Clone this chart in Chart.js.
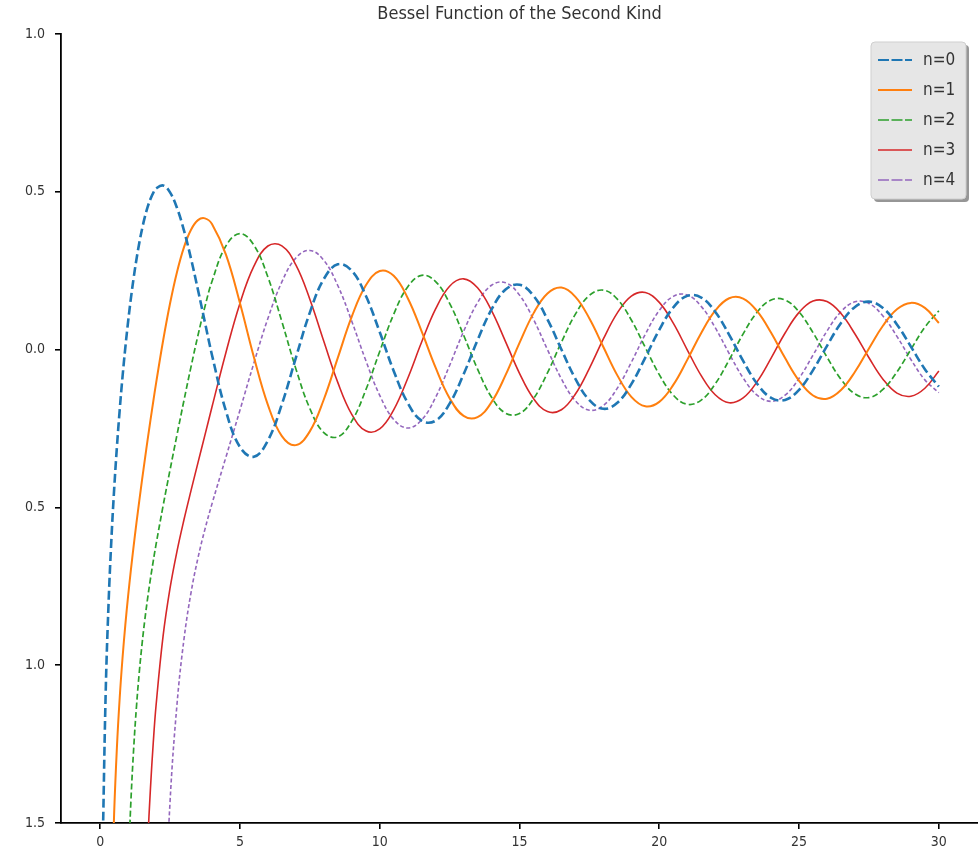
<!DOCTYPE html>
<html>
<head>
<meta charset="utf-8">
<script src="https://cdn.jsdelivr.net/npm/chart.js@4.4.1/dist/chart.umd.min.js"></script>
<style>
  html, body { margin: 0; padding: 0; background: #ffffff; }
  #wrap { width: 978px; height: 853px; }
</style>
</head>
<body>
<div id="wrap"><canvas id="chart" width="978" height="853"></canvas></div>
<script>
// ---------------- data ----------------
const titleText = 'Bessel Function of the Second Kind';
const seriesNames = ['n=0', 'n=1', 'n=2', 'n=3', 'n=4'];

const xValues = [
  0.1, 0.2, 0.3, 0.4, 0.5, 0.6, 0.7, 0.8, 0.9, 1.0,
  1.1, 1.2, 1.3, 1.4, 1.5, 1.6, 1.7, 1.8, 1.9, 2.0,
  2.25, 2.5, 2.75, 3.0, 3.25, 3.5, 3.75, 4.0,
  4.5, 5.0, 5.5, 6.0, 6.5, 7.0, 7.5, 8.0, 8.5, 9.0, 9.5, 10.0,
  10.5, 11.0, 11.5, 12.0, 12.5, 13.0, 13.5, 14.0, 14.5, 15.0,
  15.5, 16.0, 16.5, 17.0, 17.5, 18.0, 18.5, 19.0, 19.5, 20.0,
  20.5, 21.0, 21.5, 22.0, 22.5, 23.0, 23.5, 24.0, 24.5, 25.0,
  25.5, 26.0, 26.5, 27.0, 27.5, 28.0, 28.5, 29.0, 29.5, 30.0
];

const y0Values = [
  -1.5342, -1.0811, -0.8073, -0.6060, -0.4445, -0.3085, -0.1907, -0.0868, 0.0056, 0.0883,
  0.1622, 0.2281, 0.2865, 0.3379, 0.3824, 0.4204, 0.4520, 0.4774, 0.4968, 0.5104,
  0.5201, 0.4981, 0.4487, 0.3769, 0.2883, 0.1890, 0.0853, -0.0169,
  -0.1947, -0.3085, -0.3395, -0.2882, -0.1732, -0.0260, 0.1173, 0.2235, 0.2702, 0.2499, 0.1712, 0.0557,
  -0.0675, -0.1688, -0.2252, -0.2252, -0.1712, -0.0782, 0.0301, 0.1272, 0.1903, 0.2055,
  0.1706, 0.0958, 0.0002, -0.0926, -0.1604, -0.1876, -0.1687, -0.1095, -0.0255, 0.0626,
  0.1334, 0.1702, 0.1649, 0.1199, 0.0468, -0.0360, -0.1083, -0.1528, -0.1594, -0.1273,
  -0.0649, 0.0120, 0.0846, 0.1352, 0.1521, 0.1318, 0.0799, 0.0095, -0.0620, -0.1173
];

const y1Values = [
  null, null, null, -1.7809, -1.4715, -1.2604, -1.1032, -0.9781, -0.8731, -0.7812,
  -0.6981, -0.6211, -0.5485, -0.4791, -0.4123, -0.3476, -0.2847, -0.2237, -0.1644, -0.1070,
  0.0272, 0.1459, 0.2460, 0.3247, 0.3797, 0.4102, 0.4158, 0.3979,
  0.3010, 0.1479, -0.0238, -0.1750, -0.2741, -0.3027, -0.2591, -0.1581, -0.0262, 0.1043, 0.2032, 0.2490,
  0.2337, 0.1637, 0.0579, -0.0571, -0.1538, -0.2101, -0.2140, -0.1666, -0.0810, 0.0211,
  0.1148, 0.1780, 0.1965, 0.1672, 0.0986, 0.0082, -0.0817, -0.1496, -0.1796, -0.1655,
  -0.1119, -0.0325, 0.0528, 0.1234, 0.1626, 0.1617, 0.1217, 0.0531, -0.0270, -0.0988,
  -0.1454, -0.1558, -0.1283, -0.0703, 0.0038, 0.0755, 0.1277, 0.1480, 0.1321, 0.0844
];

const y2Values = [
  null, null, null, null, null, null, null, null, null, -1.6507,
  -1.4315, -1.2633, -1.1304, -1.0224, -0.9322, -0.8549, -0.7870, -0.7259, -0.6699, -0.6174,
  -0.4959, -0.3813, -0.2697, -0.1604, -0.0546, 0.0454, 0.1365, 0.2159,
  0.3285, 0.3677, 0.3309, 0.2299, 0.0889, -0.0605, -0.1864, -0.2630, -0.2764, -0.2268, -0.1284, -0.0059,
  0.1120, 0.1986, 0.2353, 0.2157, 0.1466, 0.0459, -0.0618, -0.1510, -0.2015, -0.2027,
  -0.1558, -0.0736, 0.0236, 0.1123, 0.1717, 0.1885, 0.1598, 0.0938, 0.0070, -0.0792,
  -0.1443, -0.1733, -0.1600, -0.1087, -0.0324, 0.0500, 0.1186, 0.1573, 0.1572, 0.1193,
  0.0535, -0.0240, -0.0942, -0.1404, -0.1519, -0.1264, -0.0709, 0.0007, 0.0710, 0.1229
];

const y3Values = [
  null, null, null, null, null, null, null, null, null, null,
  null, null, null, null, null, -1.7897, -1.5670, -1.3896, -1.2459, -1.1278,
  -0.9088, -0.7561, -0.6384, -0.5385, -0.4469, -0.3583, -0.2702, -0.1820,
  -0.0090, 0.1463, 0.2644, 0.3282, 0.3288, 0.2681, 0.1597, 0.0265, -0.1039, -0.2051, -0.2573, -0.2514,
  -0.1910, -0.0915, 0.0239, 0.1290, 0.2008, 0.2242, 0.1957, 0.1235, 0.0255, -0.0751,
  -0.1550, -0.1964, -0.1907, -0.1408, -0.0593, 0.0337, 0.1163, 0.1693, 0.1810, 0.1497,
  0.0837, -0.0005, -0.0826, -0.1432, -0.1684, -0.1530, -0.1015, -0.0269, 0.0526, 0.1179,
  0.1537, 0.1521, 0.1141, 0.0494, -0.0258, -0.0936, -0.1377, -0.1479, -0.1225, -0.0680
];

const y4Values = [
  null, null, null, null, null, null, null, null, null, null,
  null, null, null, null, null, null, null, null, null, null,
  -1.9275, -1.4332, -1.1230, -0.9167, -0.7705, -0.6597, -0.5688, -0.4889,
  -0.3405, -0.1921, -0.0424, 0.0984, 0.2146, 0.2903, 0.3142, 0.2829, 0.2030, 0.0900, -0.0340, -0.1449,
  -0.2212, -0.2485, -0.2228, -0.1512, -0.0502, 0.0576, 0.1488, 0.2039, 0.2120, 0.1726,
  0.0958, -0.0001, -0.0930, -0.1620, -0.1920, -0.1772, -0.1221, -0.0403, 0.0487, 0.1241,
  0.1688, 0.1732, 0.1370, 0.0696, -0.0125, -0.0899, -0.1445, -0.1640, -0.1443, -0.0910,
  -0.0173, 0.0591, 0.1201, 0.1514, 0.1462, 0.1064, 0.0420, -0.0313, -0.0959, -0.1365
];

const xTicks = [0, 5, 10, 15, 20, 25, 30];
const yTicks = [-1.5, -1.0, -0.5, 0.0, 0.5, 1.0];
const yTickLabels = ['1.5', '1.0', '0.5', '0.0', '0.5', '1.0'];

// ---------------- styles ----------------
const seriesColors = ['#1f77b4', '#ff7f0e', '#2ca02c', '#d62728', '#9467bd'];
const seriesWidths = [2.6, 2.0, 1.7, 1.6, 1.6];
const seriesDashes = [[9, 4], [], [6, 3], [], [4, 2.5]];
const legendDashes = [[11, 2.5], [], [11, 2.5], [], [11, 2.5]];

const condensed = "'DejaVu Sans Condensed', 'Liberation Sans Narrow', 'DejaVu Sans', sans-serif";
const textColor = '#333333';

const allSeries = [y0Values, y1Values, y2Values, y3Values, y4Values];

const datasets = allSeries.map((vals, k) => ({
  label: seriesNames[k],
  data: xValues.map((x, i) => ({ x: x, y: vals[i] })),
  borderColor: seriesColors[k],
  backgroundColor: seriesColors[k],
  borderWidth: seriesWidths[k],
  borderDash: seriesDashes[k],
  pointRadius: 0,
  pointHoverRadius: 0,
  fill: false,
  tension: 0.4,
  spanGaps: false
}));

// custom boxed legend in the upper right corner of the plot area
const boxLegend = {
  id: 'boxLegend',
  afterDraw(chart) {
    const ctx = chart.ctx;
    const area = chart.chartArea;
    const w = 95, rowH = 30, h = 157;
    const left = area.right - 107;
    const top = area.top + 8;
    ctx.save();
    // shadow
    ctx.fillStyle = 'rgba(80,80,80,0.6)';
    ctx.beginPath();
    ctx.roundRect(left + 3, top + 3, w, h, 4);
    ctx.fill();
    // box
    ctx.fillStyle = '#e6e6e6';
    ctx.strokeStyle = '#cfcfcf';
    ctx.lineWidth = 1;
    ctx.beginPath();
    ctx.roundRect(left, top, w, h, 4);
    ctx.fill();
    ctx.stroke();
    // entries
    ctx.font = '17px ' + condensed;
    ctx.textBaseline = 'middle';
    ctx.textAlign = 'left';
    chart.data.datasets.forEach((ds, i) => {
      const cy = top + 18 + i * rowH;
      ctx.beginPath();
      ctx.setLineDash(legendDashes[i]);
      ctx.strokeStyle = ds.borderColor;
      ctx.lineWidth = Math.min(ds.borderWidth, 2.2);
      ctx.moveTo(left + 7, cy);
      ctx.lineTo(left + 41, cy);
      ctx.stroke();
      ctx.setLineDash([]);
      ctx.fillStyle = textColor;
      ctx.fillText(ds.label, left + 52, cy + 1);
    });
    ctx.restore();
  }
};

new Chart(document.getElementById('chart'), {
  type: 'line',
  data: { datasets: datasets },
  plugins: [boxLegend],
  options: {
    responsive: false,
    animation: false,
    devicePixelRatio: 1,
    layout: { padding: 0 },
    elements: { line: { capBezierPoints: false } },
    plugins: {
      legend: { display: false },
      tooltip: { enabled: false },
      title: {
        display: true,
        text: titleText,
        fullSize: false,
        color: textColor,
        font: { family: condensed, size: 18, weight: 'normal', lineHeight: 1.2 },
        padding: { top: 3.5, bottom: 8.9 }
      }
    },
    scales: {
      x: {
        type: 'linear',
        min: -1.4,
        max: 31.4,
        afterFit: (scale) => { scale.height = 30; },
        afterBuildTicks: (scale) => { scale.ticks = xTicks.map(v => ({ value: v })); },
        grid: { display: true, drawOnChartArea: false, drawTicks: true, tickLength: 6, color: '#000000', lineWidth: 1.6 },
        border: { display: true, color: '#000000', width: 1.8 },
        ticks: {
          color: textColor,
          font: { family: condensed, size: 14 },
          padding: 5,
          maxRotation: 0,
          autoSkip: false,
          callback: (v) => String(v)
        }
      },
      y: {
        type: 'linear',
        min: -1.5,
        max: 1.0,
        afterFit: (scale) => { scale.width = 61; },
        afterBuildTicks: (scale) => { scale.ticks = yTicks.map(v => ({ value: v })); },
        grid: { display: true, drawOnChartArea: false, drawTicks: true, tickLength: 6, color: '#000000', lineWidth: 1.6 },
        border: { display: true, color: '#000000', width: 1.8 },
        ticks: {
          color: textColor,
          font: { family: condensed, size: 14 },
          padding: 10,
          autoSkip: false,
          callback: (v) => yTickLabels[yTicks.indexOf(v)]
        }
      }
    }
  }
});
</script>
</body>
</html>
